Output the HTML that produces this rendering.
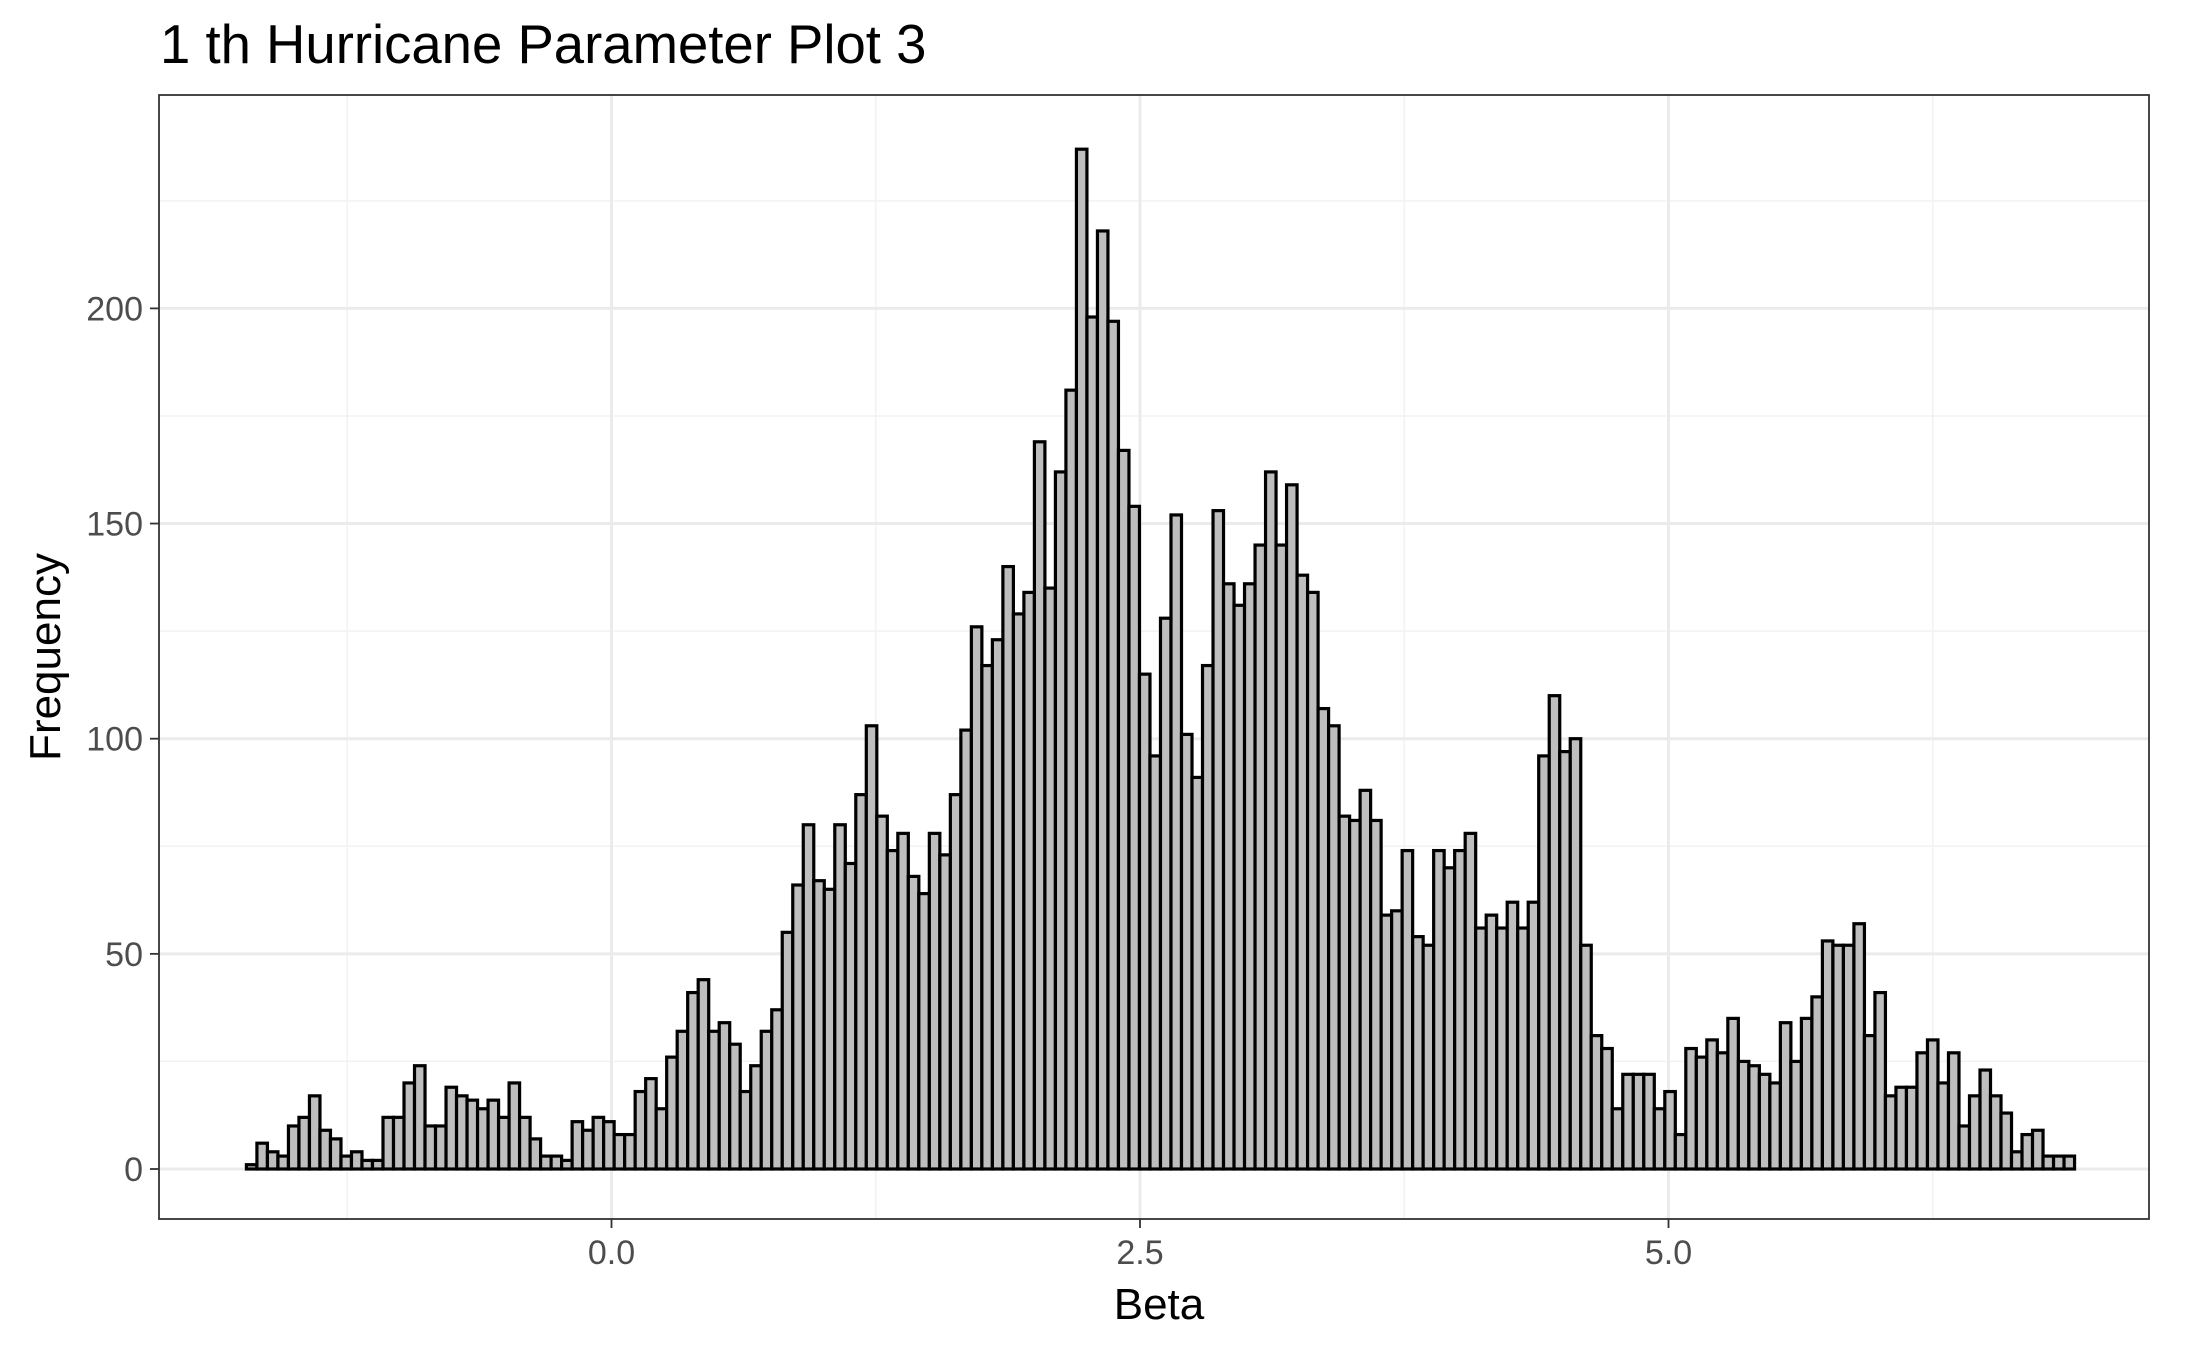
<!DOCTYPE html>
<html><head><meta charset="utf-8"><style>
html,body{margin:0;padding:0;background:#fff;}
svg{display:block;font-family:"Liberation Sans",Arial,sans-serif;}
</style></head><body>
<svg id="chart" width="2187" height="1349" viewBox="0 0 2187 1349" xmlns="http://www.w3.org/2000/svg">
<rect x="0" y="0" width="2187" height="1349" fill="#fff"/>
<text x="160" y="63" font-size="54.5" fill="#000">1 th Hurricane Parameter Plot 3</text>
<g id="grid"></g>
<g id="bars"></g>
<rect x="159" y="95" width="1990" height="1124" fill="none" stroke="#333" stroke-width="1.8"/>
<g id="axes"></g>
<text x="1159" y="1319" font-size="44" text-anchor="middle" fill="#000">Beta</text>
<text transform="translate(60,657) rotate(-90)" font-size="44" text-anchor="middle" fill="#000">Frequency</text>
</svg>
<script>
const counts = [1,6,4,3,10,12,17,9,7,3,4,2,2,12,12,20,24,10,10,19,17,16,14,16,12,20,12,7,3,3,2,11,9,12,11,8,8,18,21,14,26,
32,41,44,32,34,29,18,24,32,37,55,66,80,67,65,80,71,87,103,82,74,78,68,64,78,73,87,102,126,117,
123,140,129,134,169,135,162,181,237,198,218,197,167,154,115,96,128,152,101,91,117,153,136,131,136,145,162,145,159,138,
134,107,103,82,81,88,81,59,60,74,54,52,74,70,74,78,56,59,56,62,56,62,96,110,97,100,52,31,28,14,
22,22,22,14,18,8,28,26,30,27,35,25,24,22,20,34,25,35,40,53,52,52,57,31,41,17,19,19,27,30,
20,27,10,17,23,17,13,4,8,9,3,3,3];
const binStart = -1.727;
const binWidth = 0.0497;
const xTicks = [0, 2.5, 5];
const xTickLabels = ["0.0","2.5","5.0"];
const xMinor = [-1.25, 1.25, 3.75, 6.25];
const yTicks = [0, 50, 100, 150, 200];
const yTickLabels = ["0","50","100","150","200"];
const yMinor = [25, 75, 125, 175, 225];

const PL=159, PR=2149, PT=95, PB=1219;
function xs(v){ return 611.5 + v*211.4; }
function ys(v){ return 1169 - v*4.303; }
const NS="http://www.w3.org/2000/svg";
const grid=document.getElementById('grid'), bars=document.getElementById('bars'), axes=document.getElementById('axes');
function line(parent,x1,y1,x2,y2,stroke,w){
  const l=document.createElementNS(NS,'line');
  l.setAttribute('x1',x1);l.setAttribute('y1',y1);l.setAttribute('x2',x2);l.setAttribute('y2',y2);
  l.setAttribute('stroke',stroke);l.setAttribute('stroke-width',w);
  parent.appendChild(l);return l;
}
yMinor.forEach(v=>{const l=line(grid,PL,ys(v),PR,ys(v),'#f2f2f2',1.5);

});
xMinor.forEach(v=>{const l=line(grid,xs(v),PT,xs(v),PB,'#f2f2f2',1.5);

});
yTicks.forEach(v=>{const l=line(grid,PL,ys(v),PR,ys(v),'#ebebeb',3);

});
xTicks.forEach(v=>{const l=line(grid,xs(v),PT,xs(v),PB,'#ebebeb',3);

});
counts.forEach((c,i)=>{
  const x0=xs(binStart+i*binWidth), x1=xs(binStart+(i+1)*binWidth);
  const r=document.createElementNS(NS,'rect');
  r.setAttribute('x',x0);r.setAttribute('y',ys(c));
  r.setAttribute('width',x1-x0);r.setAttribute('height',ys(0)-ys(c));
  r.setAttribute('fill','#bebebe');r.setAttribute('stroke','#000');r.setAttribute('stroke-width','3.2');
  
  
  bars.appendChild(r);
});
xTicks.forEach((v,i)=>{
  const l=line(axes,xs(v),PB,xs(v),PB+9,'#333',1.8);
  
  
  const t=document.createElementNS(NS,'text');
  t.setAttribute('x',xs(v));t.setAttribute('y',PB+45);t.setAttribute('font-size','34');
  t.setAttribute('text-anchor','middle');t.setAttribute('fill','#4d4d4d');
  t.textContent=xTickLabels[i];
  
  
  axes.appendChild(t);
});
yTicks.forEach((v,i)=>{
  const l=line(axes,PL-9,ys(v),PL,ys(v),'#333',1.8);
  
  
  const t=document.createElementNS(NS,'text');
  t.setAttribute('x',PL-16);t.setAttribute('y',ys(v)+12);t.setAttribute('font-size','34');
  t.setAttribute('text-anchor','end');t.setAttribute('fill','#4d4d4d');
  t.textContent=yTickLabels[i];
  
  
  axes.appendChild(t);
});
</script>
</body></html>
